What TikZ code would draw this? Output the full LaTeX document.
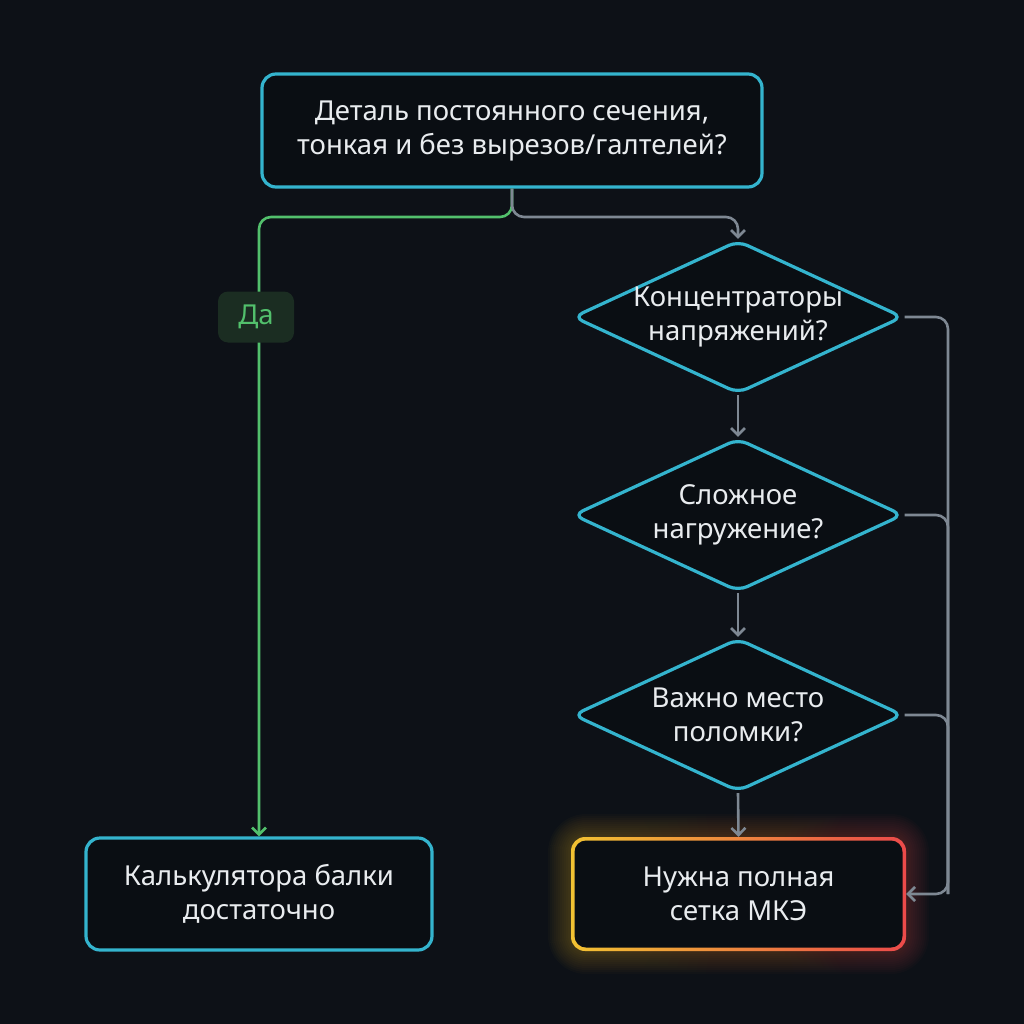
\documentclass[tikz,border=0pt]{standalone}
\usepackage{fontspec}
\setmainfont{Noto Sans}
\usetikzlibrary{arrows.meta, positioning, calc, shapes.geometric}

\definecolor{bgdark}{HTML}{0D1117}
\definecolor{boxfill}{HTML}{0A0E13}
\definecolor{cyanline}{HTML}{34B4CE}
\definecolor{yesgreen}{HTML}{52C06C}
\definecolor{yesfill}{HTML}{1B2D22}
\definecolor{nogray}{HTML}{7E8893}
\definecolor{txt}{HTML}{E9ECEF}
\definecolor{glowyel}{HTML}{F2C232}
\definecolor{glowred}{HTML}{EC4A4A}

\tikzset{
  txtstyle/.style={text=txt, font=\fontsize{27.5}{34}\selectfont, align=center},
  procbox/.style={draw=cyanline, line width=3.2pt, fill=boxfill, rounded corners=14pt, txtstyle},
  decision/.style={diamond, draw=cyanline, line width=3.2pt, fill=boxfill, rounded corners=10pt,
    minimum width=330pt, minimum height=153pt, inner sep=0pt},
  yesline/.style={draw=yesgreen, line width=2.6pt, rounded corners=12pt, -{Straight Barb[length=7pt, width=14pt]}},
  noline/.style={draw=nogray, line width=2.6pt, rounded corners=12pt, -{Straight Barb[length=7pt, width=14pt]}},
  yesbox/.style={fill=yesfill, rounded corners=10pt, text=yesgreen, font=\fontsize{27.5}{30}\selectfont,
    minimum width=76pt, minimum height=51pt}
}

\begin{document}
\begin{tikzpicture}[x=1pt, y=-1pt]
  \fill[bgdark] (0,0) rectangle (1024,1024);
  \useasboundingbox (0,0) rectangle (1024,1024);

  % nodes
  \node[procbox, minimum width=500pt, minimum height=113pt] (part) at (512,130.5)
    {Деталь постоянного сечения,\\тонкая и без вырезов/галтелей?};
  \node[decision, label={[txtstyle]center:Концентраторы\\напряжений?}] (conc) at (738,317) {};
  \node[decision, label={[txtstyle]center:Сложное\\нагружение?}] (load) at (738,515) {};
  \node[decision, label={[txtstyle]center:Важно место\\поломки?}] (crack) at (738,715) {};
  \node[procbox, minimum width=346pt, minimum height=112pt] (beam) at (259,894)
    {Калькулятора балки\\достаточно};

  % final box with glow and yellow-red border
  \foreach \g in {2,4,...,24} {
    \shade[left color=glowyel, right color=glowred, opacity=0.025, rounded corners=14pt+\g pt]
      (572-\g,838-\g) rectangle (905+\g,950+\g);
  }
  \fill[bgdark, rounded corners=14pt] (572,838) rectangle (905,950);
  \shade[left color=glowyel, right color=glowred, rounded corners=14pt] (571,837) rectangle (906,951);
  \fill[boxfill, rounded corners=11.5pt] (574.5,840.5) rectangle (902.5,947.5);
  \node[txtstyle, minimum width=335pt, minimum height=114pt] (fem) at (738.5,894)
    {Нужна полная\\сетка МКЭ};

  % connectors
  \coordinate (split) at (512,217);
  \coordinate (rail) at (948,894);
  \draw[yesline] (part.south) -- (split) -| (beam.north);
  \draw[noline] (part.south) -- (split) -| (conc.north);
  \draw[noline] (conc.south) -- (load.north);
  \draw[noline] (load.south) -- (crack.north);
  \draw[noline] (crack.south) -- (fem.north);
  \draw[noline, -] (load.east) -| (rail);
  \draw[noline, -] (crack.east) -| (rail);
  \draw[noline] (conc.east) -| (rail) -- (fem.east);
  \node[yesbox] (yes) at (256,317) {Да};
\end{tikzpicture}
\end{document}
